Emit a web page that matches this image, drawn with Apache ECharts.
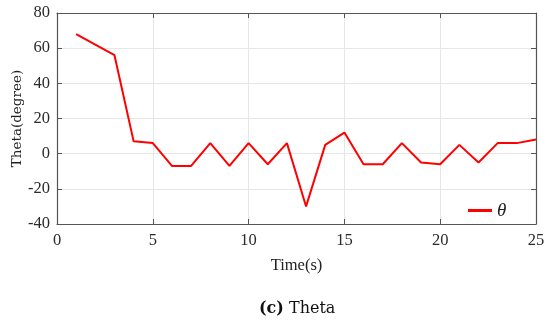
<!DOCTYPE html>
<html><head><meta charset="utf-8">
<script src="https://cdn.jsdelivr.net/npm/echarts@6/dist/echarts.min.js"></script>
<style>html,body{margin:0;padding:0;background:#fff;}#c{width:550px;height:325px;}</style>
</head><body><div id="c"></div>
<script>
var times = [1,2,3,4,5,6,7,8,9,10,11,12,13,14,15,16,17,18,19,20,21,22,23,24,25];
var theta = [68,62,56,7,6,-7,-7,6,-7,6,-6,6,-30,5,12,-6,-6,6,-5,-6,5,-5,6,6,8];
var xTicks = [0,5,10,15,20,25];
var yTicks = [-40,-20,0,20,40,60,80];
var seriesName = 'θ';

var chart = echarts.init(document.getElementById('c'));
var data = times.map(function(t,i){return [t, theta[i]];});
var axisCol = '#555';
var labelStyle = {color:'#2a2a2a', fontFamily:'Liberation Serif', fontSize:16.5};
chart.setOption({
  animation:false,
  grid:{left:57, right:14, top:13, bottom:101, outerBoundsMode:'none', containLabel:false},
  title:{text:'{b|(c)} Theta', left:254, top:296,
    textStyle:{fontFamily:'DejaVu Serif', fontSize:16, fontWeight:'normal', color:'#111',
      rich:{b:{fontFamily:'DejaVu Serif', fontSize:16, fontWeight:'bold', color:'#111'}}}},
  legend:{data:[seriesName], left:463, top:196, itemWidth:24, itemHeight:3, icon:'rect',
    itemGap:6, textStyle:{fontFamily:'Liberation Serif', fontStyle:'italic', fontSize:19, color:'#222'}},
  xAxis:[{type:'value', min:xTicks[0], max:xTicks[xTicks.length-1], interval:5,
      name:'Time(s)', nameLocation:'middle', nameGap:33, nameMoveOverlap:false,
      nameTextStyle:{fontFamily:'Liberation Serif', fontSize:16.5, color:'#222'},
      axisLine:{onZero:false, lineStyle:{color:axisCol, width:1.2}},
      axisTick:{inside:true, length:5, lineStyle:{color:axisCol}},
      axisLabel:Object.assign({margin:8}, labelStyle),
      splitLine:{show:true, lineStyle:{color:'#e6e6e6', width:1}}},
    {type:'value', position:'top', min:xTicks[0], max:xTicks[xTicks.length-1], interval:5,
      axisLine:{show:true, onZero:false, lineStyle:{color:axisCol, width:1.2}}, axisTick:{inside:true, length:5, lineStyle:{color:axisCol}},
      axisLabel:{show:false}, splitLine:{show:false}}],
  yAxis:[{type:'value', min:yTicks[0], max:yTicks[yTicks.length-1], interval:20,
      name:'Theta(degree)', nameLocation:'middle', nameGap:33, nameMoveOverlap:false,
      nameTextStyle:{fontFamily:'DejaVu Serif', fontSize:13.5, color:'#222'},
      axisLine:{show:true, onZero:false, lineStyle:{color:axisCol, width:1.2}},
      axisTick:{show:true, inside:true, length:5, lineStyle:{color:axisCol}},
      axisLabel:Object.assign({margin:7}, labelStyle),
      splitLine:{show:true, lineStyle:{color:'#e6e6e6', width:1}}},
    {type:'value', position:'right', min:yTicks[0], max:yTicks[yTicks.length-1], interval:20,
      axisLine:{show:true, onZero:false, lineStyle:{color:axisCol, width:1.2}}, axisTick:{show:true, inside:true, length:5, lineStyle:{color:axisCol}},
      axisLabel:{show:false}, splitLine:{show:false}}],
  series:[{name:seriesName, type:'line', data:data, showSymbol:false, symbol:'none',
    lineStyle:{color:'#ff0000', width:2}, itemStyle:{color:'#ff0000'}}]
});
</script></body></html>
